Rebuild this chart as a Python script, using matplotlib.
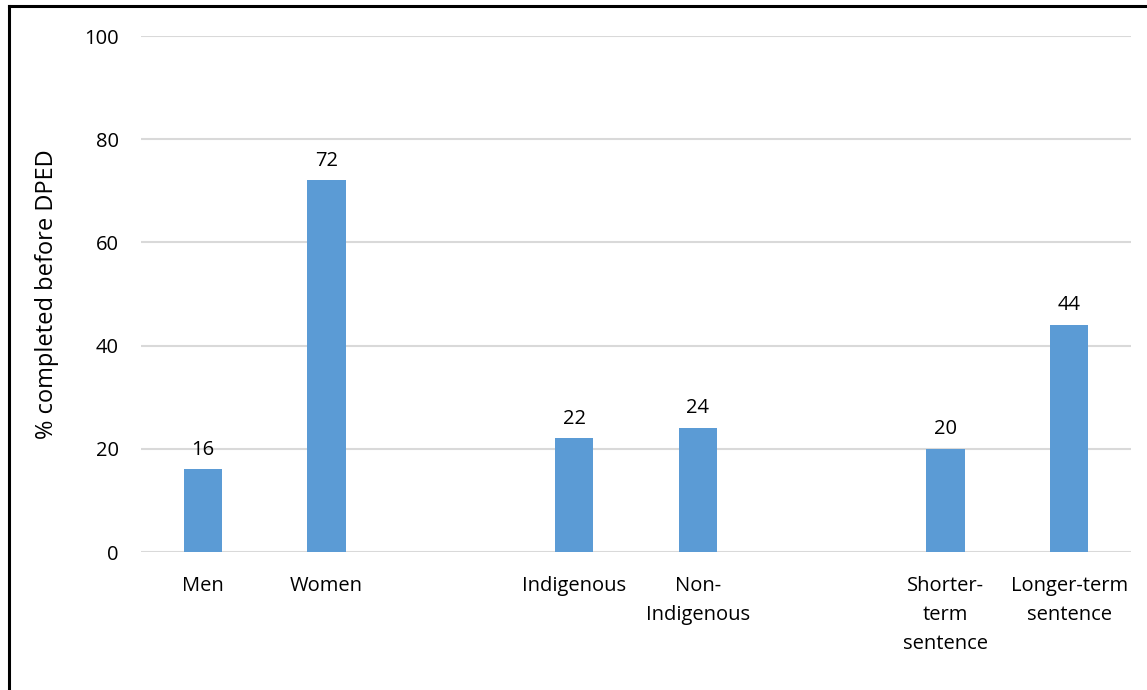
import numpy as np
import matplotlib.pyplot as plt
from matplotlib.lines import Line2D

# empty strings are spacer slots between the groups
labels = ["Men", "Women", "", "Indigenous", "Non-\nIndigenous", "",
          "Shorter-\nterm\nsentence", "Longer-term\nsentence"]
values = [16, 72, np.nan, 22, 24, np.nan, 20, 44]
yticks = [0, 20, 40, 60, 80, 100]

BAR = "#5b9bd5"
GRID = "#d9d9d9"

plt.rcParams["font.family"] = ["Open Sans", "DejaVu Sans"]

fig = plt.figure(figsize=(11.47, 6.9), dpi=100)
ax = fig.add_axes([0.1229, 0.2, 0.8632, 0.7478])

x = np.arange(len(labels))
vals = np.array(values, dtype=float)
bars = ax.bar(x, np.nan_to_num(vals), width=0.31, color=BAR, zorder=3)
for xi, v in zip(x, vals):
    if not np.isnan(v):
        ax.annotate(f"{v:.0f}", (xi, v), xytext=(0, 7), textcoords="offset points",
                    ha="center", va="bottom", fontsize=14.5, color="#000000")

ax.set_xlim(-0.5, len(labels) - 0.5)
ax.set_ylim(0, 100)
ax.set_yticks(yticks)
ax.set_xticks(x)
ax.set_xticklabels(labels, fontsize=14.5, linespacing=1.6, va="top")
ax.tick_params(axis="y", length=0, pad=16, labelsize=14.5)
ax.tick_params(axis="x", length=0, pad=17)
ax.grid(axis="y", color=GRID, lw=1.5, zorder=0)
for s in ax.spines.values():
    s.set_visible(False)
ax.set_ylabel("% completed before DPED", fontsize=17, labelpad=18)

# outer frame (top and left only visible in reference)
fig.add_artist(Line2D([9 / 1147, 9 / 1147], [0, 1 - 6 / 690], color="black", lw=2.2,
                      transform=fig.transFigure))
fig.add_artist(Line2D([9 / 1147, 1], [1 - 6 / 690, 1 - 6 / 690], color="black", lw=2.2,
                      transform=fig.transFigure))

fig.savefig("out.png", dpi=100)
